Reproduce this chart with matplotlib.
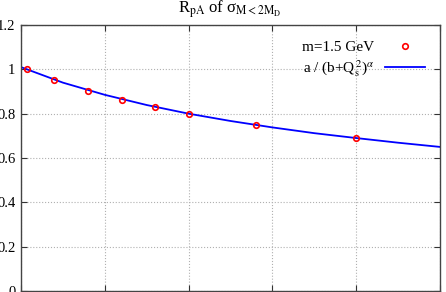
import matplotlib
matplotlib.use("Agg")
from matplotlib import pyplot as plt

# data points (x = Qs^2, y = R_pA)
qs2 = [0.07, 0.39, 0.80, 1.20, 1.60, 2.00, 2.80, 4.00]
rpa = [1.000, 0.950, 0.902, 0.862, 0.830, 0.800, 0.750, 0.692]

# fit curve as read at a few places along the line
fit_x = [0.0, 0.5, 1.0, 1.5, 2.0, 2.5, 3.0, 3.5, 4.0, 4.5, 5.0]
fit_y = [1.010, 0.940, 0.885, 0.839, 0.800, 0.767, 0.738, 0.712, 0.690, 0.669, 0.650]

yticks = [0, 0.2, 0.4, 0.6, 0.8, 1.0, 1.2]
yticklabels = ["0", "0.2", "0.4", "0.6", "0.8", "1", "1.2"]

plt.rcParams['font.family'] = ['Liberation Serif', 'DejaVu Serif']
plt.rcParams['mathtext.fontset'] = 'stix'

fig = plt.figure(figsize=(4.46, 2.92), dpi=100)
ax = fig.add_axes([21/446, 1/292, 419/446, 266/292])

ax.plot(qs2, rpa, 'o', ms=4.0, mfc='none', mec='red', mew=1.2, label='m=1.5 GeV', zorder=3)
ax.plot(fit_x, fit_y, '-', color='blue', lw=1.3,
        label=r'a / (b+Q$_\mathrm{s}^{\,2}$)$^\alpha$', zorder=2)

ax.set_xlim(0, 5)
ax.set_ylim(0, 1.2)
ax.set_xticks([0, 1, 2, 3, 4, 5])
ax.set_xticklabels([])
ax.set_yticks(yticks)
ax.set_yticklabels(yticklabels)
ax.tick_params(direction='in', length=4, width=0.8, top=True, right=True,
               labelsize=10.5, pad=4, colors='#333333', labelcolor='black')
ax.grid(True, color='#b0b0b0', linestyle=':', linewidth=0.8)
for s in ax.spines.values():
    s.set_color('#444444')
    s.set_linewidth(1.0)

ax.legend(loc='upper right', frameon=False, markerfirst=False, fontsize=11,
          handlelength=2.6, borderaxespad=0.6, labelspacing=0.25,
          handletextpad=0.7)

fig.text(0.515, 1 - 9/292, r'R$_\mathrm{pA}$ of σ$_\mathrm{M<2M_D}$',
         ha='center', va='center', fontsize=12)

fig.savefig('out.png', dpi=100)
